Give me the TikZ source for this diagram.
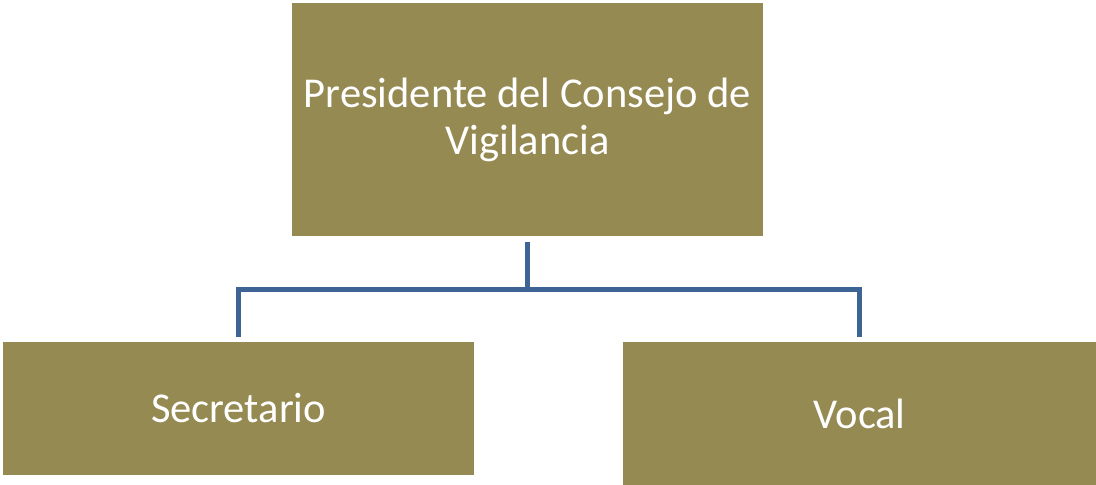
\documentclass[tikz,border=0pt]{standalone}
\usepackage{fontspec}
\setmainfont{Carlito}
\usepackage{xcolor}
\usetikzlibrary{positioning}
\definecolor{olivebox}{HTML}{968A53}
\definecolor{linkblue}{HTML}{3E6496}
\tikzset{
  orgbox/.style={fill=olivebox, text=white, inner sep=0pt, align=center,
    font=\fontsize{42.5}{47}\selectfont},
  conn/.style={draw=linkblue, line width=5pt}
}

\begin{document}
\begin{tikzpicture}[x=1pt, y=-1pt]
    \useasboundingbox (0,0) rectangle (1096,485);
    % boxes
    \node[orgbox, minimum width=471pt, minimum height=233pt] (pres) at (527.5,119.5)
    {Presidente del Consejo de\\Vigilancia};
    \node[orgbox, minimum width=471pt, minimum height=133pt] (secr) at (238.5,408.5) {Secretario};
    \node[orgbox, minimum width=473pt, minimum height=143pt] (voc) at (859.5,413.5) {Vocal};
    %
    \coordinate (bar) at (527.5,289);
    \draw[conn] ([yshift=-6pt]pres.south) -- (bar);
    \draw[conn] ([yshift=5pt]secr.north) |- (bar) -| ([yshift=5pt]voc.north);
\end{tikzpicture}
\end{document}
